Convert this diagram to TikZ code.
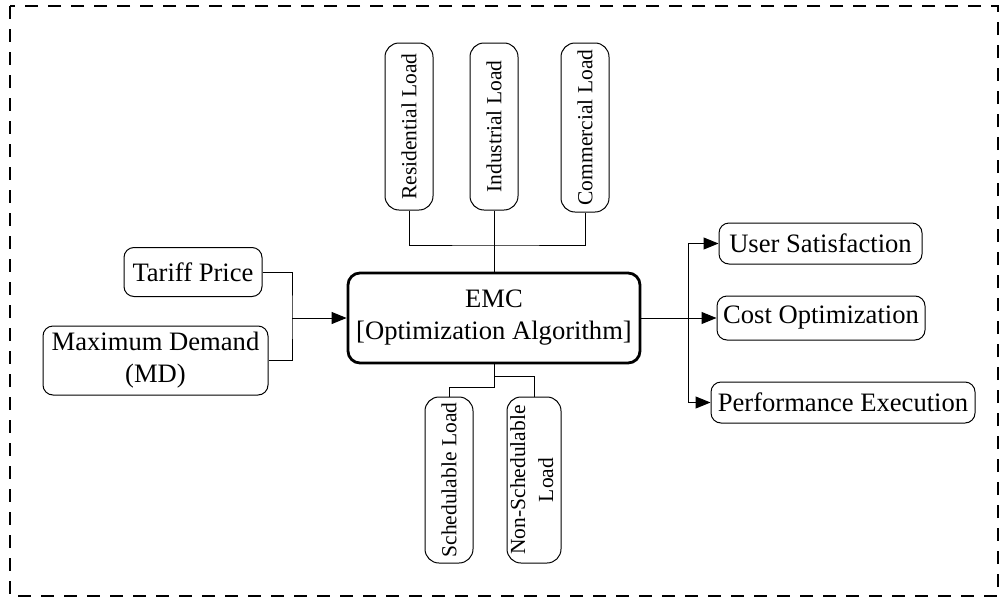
\documentclass[tikz,border=0pt]{standalone}
\usepackage{fontspec}
\setmainfont{Liberation Serif}
\usetikzlibrary{arrows.meta}

\tikzset{
  box/.style={draw, line width=1pt, rounded corners=10pt, inner sep=0pt, align=center,
              font=\fontsize{26.6}{32}\selectfont},
  vbox/.style={draw, line width=1pt, rounded corners=14pt, inner sep=0pt,
              minimum width=48pt, font=\fontsize{21.5}{26}\selectfont},
  mainbox/.style={draw, line width=2.8pt, rounded corners=12pt, inner sep=0pt, align=center,
              font=\fontsize{26.6}{32}\selectfont},
  wire/.style={line width=1pt},
  feed/.style={line width=1pt, -{Triangle[length=15pt, width=12pt]}},
  frame/.style={line width=2pt, dash pattern=on 13pt off 10pt}
}

\begin{document}
\begin{tikzpicture}[x=1pt, y=-1pt]
\useasboundingbox (0,0) rectangle (1000,597);
\draw[frame] (10,6) rectangle (998,596);

% controller
\node[mainbox, minimum width=292pt, minimum height=90pt] (emc) at (494,318)
  {EMC\\{[}Optimization Algorithm{]}};

% inputs
\node[box, minimum width=138pt, minimum height=49pt] (tariff) at (193,272) {Tariff Price};
\node[box, minimum width=225pt, minimum height=69pt] (md) at (155.5,360.5) {Maximum Demand\\(MD)};

% load classes above
\node[vbox, minimum height=167pt] (res) at (409,126.5) {\rotatebox{90}{Residential Load}};
\node[vbox, minimum height=167pt] (ind) at (494,126.5) {\rotatebox{90}{Industrial Load}};
\node[vbox, minimum height=169pt] (com) at (585,127.5) {\rotatebox{90}{Commercial Load}};

% load types below
\node[vbox, minimum height=166pt] (sch) at (449,480) {\rotatebox{90}{Schedulable Load}};
\node[vbox, minimum height=166pt] (non) at (534,480)
  {\rotatebox{90}{\begin{tabular}{@{}c@{}}Non-Schedulable\\[2pt]Load\end{tabular}}};

% outputs
\node[box, minimum width=203pt, minimum height=41pt] (us) at (820.5,243.5) {User Satisfaction};
\node[box, minimum width=208pt, minimum height=44pt] (co) at (821,318) {Cost Optimization};
\node[box, minimum width=264pt, minimum height=41pt] (pe) at (843,402.5) {Performance Execution};

% junction points
\coordinate (jl) at (292,318);
\coordinate (jt) at (494,245);
\coordinate (b1) at (494,376);
\coordinate (b2) at (494,387);
\coordinate (jr) at (688,318);

% input wiring
\draw[wire] (tariff.east) -| (jl) |- (md.east);
\draw[feed] (jl) -- (emc.west);

% upper load wiring
\draw[wire] (res.south) |- (jt) -| (com.south);
\draw[wire] (ind.south) -- (emc.north);

% lower load wiring
\draw[wire] (emc.south) -- (b2) -| (sch.north);
\draw[wire] (b1) -| (non.north);

% output wiring
\draw[wire] (emc.east) -- (jr);
\draw[feed] (jr) -- (co.west);
\draw[feed] (jr) |- (us.west);
\draw[feed] (jr) |- (pe.west);
\end{tikzpicture}
\end{document}
